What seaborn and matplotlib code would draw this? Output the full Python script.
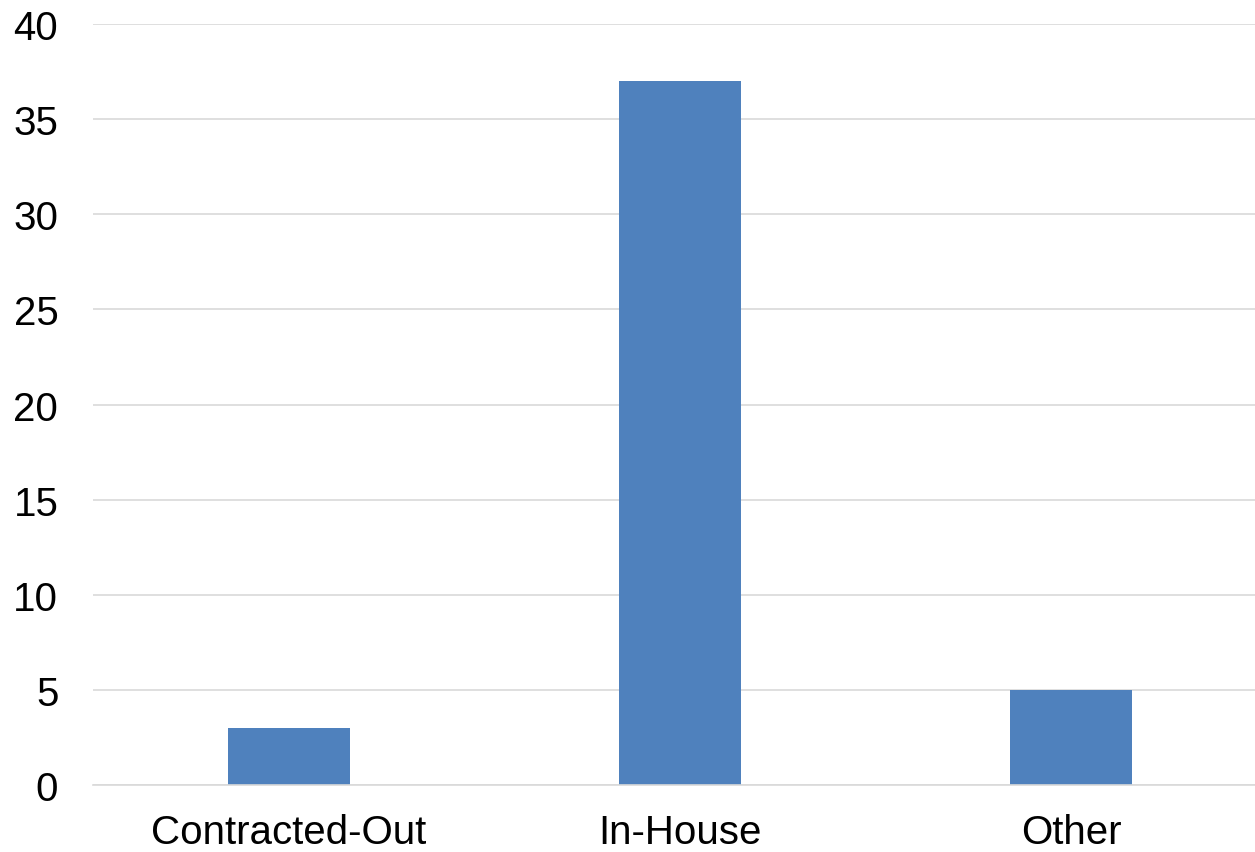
import matplotlib
matplotlib.use("Agg")
import matplotlib.pyplot as plt
import seaborn as sns
import pandas as pd

categories = ["Contracted-Out", "In-House", "Other"]
values = [3, 37, 5]

sns.set_theme(style="white")
plt.rcParams['font.family'] = ['Liberation Sans', 'DejaVu Sans']

fig = plt.figure(figsize=(12.55, 8.53), dpi=100)
ax = fig.add_axes([93/1255, 1-786/853, 1-93/1255, (786-25)/853])

df = pd.DataFrame({"cat": categories, "val": values})
sns.barplot(data=df, x="cat", y="val", color="#4F81BD", saturation=1, width=0.312,
            linewidth=0, ax=ax)

ax.set_ylim(0, 40)
ax.set_xlim(-0.5, 2.47)
ax.set_yticks(range(0, 41, 5))
ax.yaxis.grid(True, color="#D9D9D9", linewidth=1.2)
ax.set_axisbelow(True)
for s in ["top", "right", "left"]:
    ax.spines[s].set_visible(False)
ax.spines["bottom"].set_color("#D9D9D9")
ax.spines["bottom"].set_linewidth(1.2)
ax.set_xlabel("")
ax.set_ylabel("")
ax.tick_params(axis="both", length=0, labelsize=29, colors="black")
ax.tick_params(axis="y", pad=25)
ax.tick_params(axis="x", pad=20)

fig.savefig("out.png", dpi=100)
